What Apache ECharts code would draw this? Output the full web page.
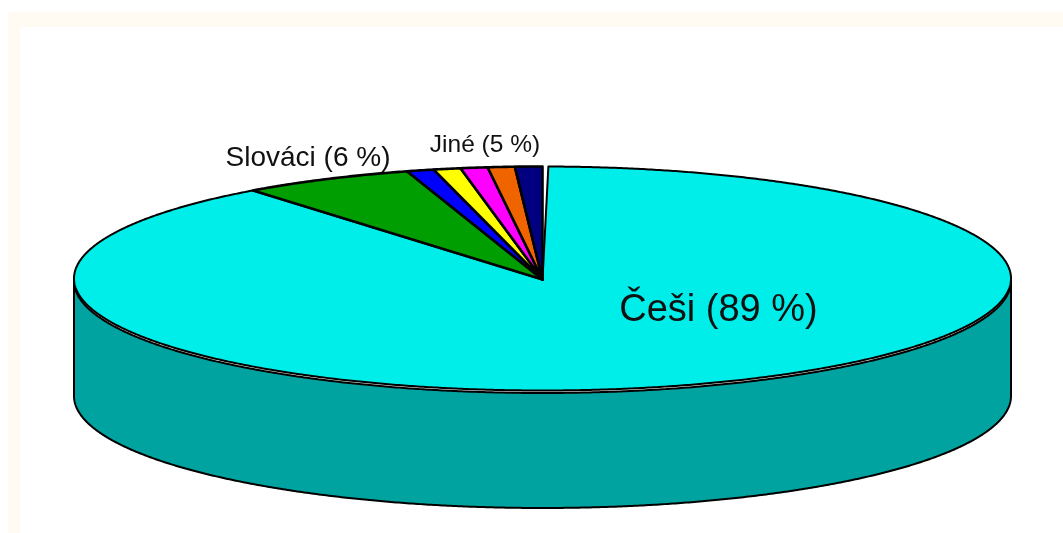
<!DOCTYPE html>
<html>
<head>
<meta charset="utf-8">
<style>html,body{margin:0;padding:0;background:#fff}#c{width:1063px;height:533px}</style>
<script src="https://cdn.jsdelivr.net/npm/echarts@6/dist/echarts.min.js"></script>
</head>
<body>
<div id="c"></div>
<script>
// Data, clockwise from just after 12 o'clock
var categories = ['Češi', 'Slováci', 'Jiné 1', 'Jiné 2', 'Jiné 3', 'Jiné 4', 'Jiné 5'];
var values = [89.2, 5.93, 0.94, 0.93, 0.93, 0.93, 0.94];
var startGap = 0.2;
var colors = ['#00EEEA', '#009E00', '#0000FF', '#FFFF00', '#FF00FF', '#F06400', '#000080'];
var wallColor = '#00A3A0';
var labelTexts = ['Češi (89 %)', 'Slováci (6 %)', 'Jiné (5 %)'];

// Layout
var CX = 542.5, CY = 278.5, RX = 468.5, RY = 112, WALL_TOP = 2.5, DEPTH = 115, LW = 2, LW_SMALL = 2.6;

function pt(a, dy) {
  return [CX + RX * Math.sin(a), CY + (dy || 0) - RY * Math.cos(a)];
}
function arc(a0, a1, dy) {
  var n = Math.max(2, Math.ceil(Math.abs(a1 - a0) / 0.006)), out = [];
  for (var i = 0; i <= n; i++) out.push(pt(a0 + (a1 - a0) * i / n, dy));
  return out;
}
var total = startGap + values.reduce(function (s, v) { return s + v; }, 0);
var starts = [], acc = startGap;
values.forEach(function (v) { starts.push(acc); acc += v; });

function renderItem(params, api) {
  var i = params.dataIndex;
  var a0 = starts[i] / total * 2 * Math.PI;
  var a1 = (starts[i] + api.value(1)) / total * 2 * Math.PI;
  var children = [];
  var w0 = Math.max(a0, Math.PI / 2), w1 = Math.min(a1, 3 * Math.PI / 2);
  if (w1 > w0) {
    children.push({
      type: 'polygon',
      shape: { points: arc(w0, w1, WALL_TOP).concat(arc(w1, w0, WALL_TOP + DEPTH)) },
      style: { fill: wallColor, stroke: '#000', lineWidth: LW, lineJoin: 'round' }
    });
  }
  children.push({
    type: 'polygon',
    shape: { points: [[CX, CY + 1]].concat(arc(a0, a1, 0)) },
    style: { fill: colors[i], stroke: '#000', lineWidth: i === 0 ? LW : LW_SMALL, lineJoin: 'round' }
  });
  return { type: 'group', children: children };
}

var chart = echarts.init(document.getElementById('c'), null, { renderer: 'canvas' });
chart.setOption({
  animation: false,
  backgroundColor: '#ffffff',
  graphic: [
    { type: 'rect', z: -2, shape: { x: 8, y: 12, width: 1055, height: 521 }, style: { fill: '#FFFBF2' } },
    { type: 'rect', z: -1, shape: { x: 20, y: 27, width: 1043, height: 506 }, style: { fill: '#ffffff' } },
    { type: 'text', z: 10, style: { text: labelTexts[0], x: 718.5, y: 310.5, align: 'center', verticalAlign: 'middle', fontFamily: 'Liberation Sans', fontSize: 38, fill: '#111' } },
    { type: 'text', z: 10, style: { text: labelTexts[1], x: 308, y: 158.5, align: 'center', verticalAlign: 'middle', fontFamily: 'Liberation Sans', fontSize: 28, fill: '#111' } },
    { type: 'text', z: 10, style: { text: labelTexts[2], x: 485, y: 145, align: 'center', verticalAlign: 'middle', fontFamily: 'Liberation Sans', fontSize: 24.5, fill: '#111' } }
  ],
  series: [{
    type: 'custom',
    coordinateSystem: 'none',
    renderItem: renderItem,
    silent: true,
    data: categories.map(function (c, i) { return [c, values[i]]; })
  }]
});
</script>
</body>
</html>
